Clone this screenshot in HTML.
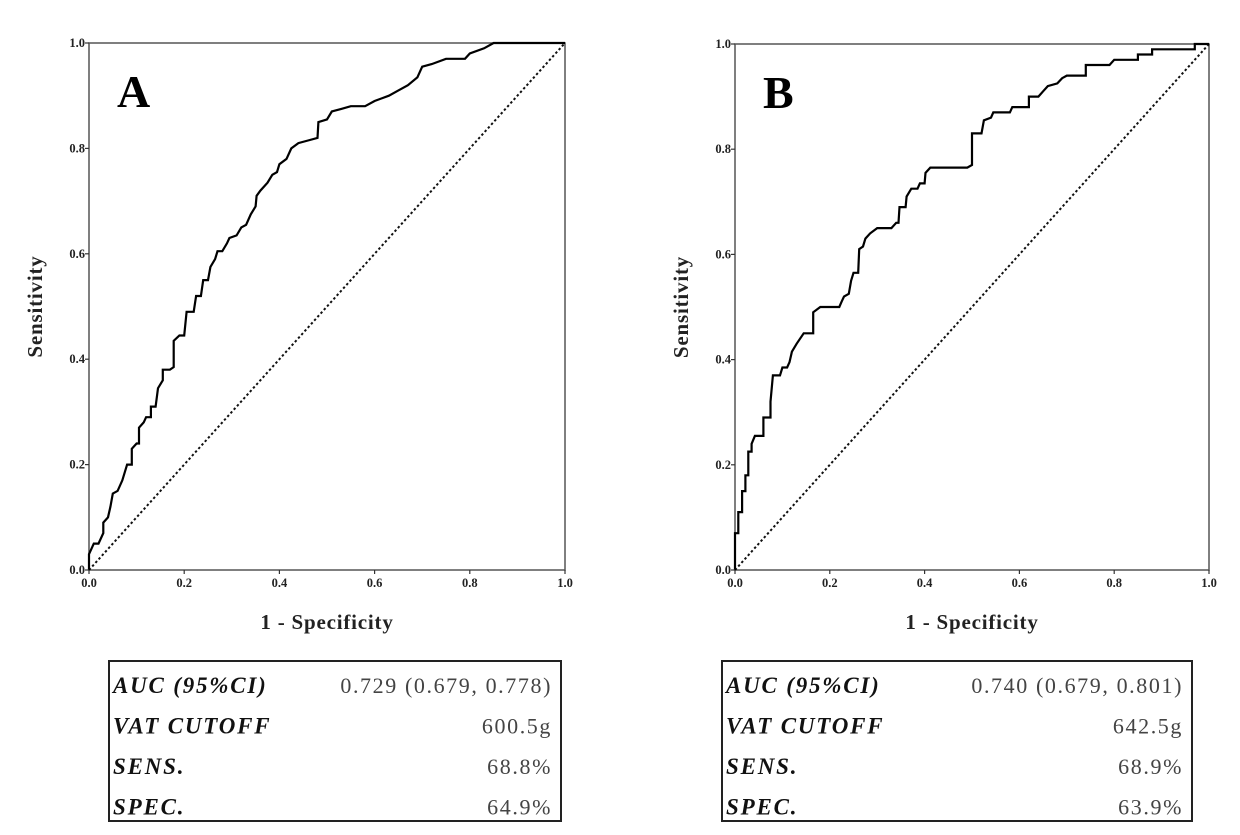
<!DOCTYPE html>
<html><head><meta charset="utf-8"><style>
body{margin:0;background:#fff;}
svg{display:block;font-family:"Liberation Serif",serif;}
</style></head><body>
<svg id="fig" width="1240" height="835" viewBox="0 0 1240 835"></svg>
<script>
const ticks=[0,0.2,0.4,0.6,0.8,1.0];
const tickLabels=["0.0","0.2","0.4","0.6","0.8","1.0"];
const rocAx=[0,0,0.01,0.02,0.03,0.03,0.04,0.045,0.05,0.06,0.07,0.08,0.09,0.09,0.1,0.105,0.105,0.115,0.12,0.13,0.13,0.14,0.145,0.155,0.155,0.17,0.178,0.178,0.19,0.2,0.205,0.22,0.225,0.235,0.24,0.25,0.255,0.265,0.27,0.28,0.29,0.295,0.31,0.32,0.33,0.34,0.35,0.352,0.36,0.375,0.385,0.395,0.4,0.415,0.425,0.44,0.46,0.48,0.482,0.5,0.51,0.53,0.55,0.58,0.6,0.63,0.65,0.67,0.69,0.7,0.72,0.75,0.79,0.8,0.83,0.85,0.97,1];
const rocAy=[0,0.03,0.05,0.05,0.07,0.09,0.1,0.12,0.145,0.15,0.17,0.2,0.2,0.23,0.24,0.24,0.27,0.28,0.29,0.29,0.31,0.31,0.345,0.36,0.38,0.38,0.385,0.435,0.445,0.445,0.49,0.49,0.52,0.52,0.55,0.55,0.575,0.59,0.605,0.605,0.62,0.63,0.635,0.65,0.655,0.675,0.69,0.71,0.72,0.735,0.75,0.755,0.77,0.78,0.8,0.81,0.815,0.82,0.85,0.855,0.87,0.875,0.88,0.88,0.89,0.9,0.91,0.92,0.935,0.955,0.96,0.97,0.97,0.98,0.99,1,1,1];
const rocBx=[0,0,0.007,0.007,0.015,0.015,0.022,0.022,0.028,0.028,0.035,0.035,0.042,0.06,0.06,0.075,0.075,0.08,0.095,0.1,0.11,0.115,0.12,0.13,0.145,0.165,0.165,0.18,0.22,0.225,0.23,0.24,0.245,0.25,0.26,0.262,0.27,0.275,0.285,0.3,0.33,0.34,0.345,0.347,0.36,0.362,0.372,0.385,0.39,0.4,0.402,0.412,0.49,0.5,0.5,0.52,0.525,0.54,0.545,0.58,0.585,0.62,0.62,0.64,0.65,0.66,0.68,0.69,0.7,0.74,0.74,0.79,0.8,0.85,0.85,0.88,0.88,0.97,0.97,1];
const rocBy=[0,0.07,0.07,0.11,0.11,0.15,0.15,0.18,0.18,0.225,0.225,0.24,0.255,0.255,0.29,0.29,0.32,0.37,0.37,0.385,0.385,0.395,0.415,0.43,0.45,0.45,0.49,0.5,0.5,0.51,0.52,0.525,0.55,0.565,0.565,0.61,0.615,0.63,0.64,0.65,0.65,0.66,0.66,0.69,0.69,0.71,0.725,0.725,0.735,0.735,0.755,0.765,0.765,0.77,0.83,0.83,0.855,0.86,0.87,0.87,0.88,0.88,0.9,0.9,0.91,0.92,0.925,0.935,0.94,0.94,0.96,0.96,0.97,0.97,0.98,0.98,0.99,0.99,1,1];
const tableLabels=["AUC (95%CI)","VAT CUTOFF","SENS.","SPEC."];
const tableA=["0.729 (0.679, 0.778)","600.5g","68.8%","64.9%"];
const tableB=["0.740 (0.679, 0.801)","642.5g","68.9%","63.9%"];
const NS="http://www.w3.org/2000/svg";
const svg=document.getElementById('fig');
function mk(tag,at,parent,txt){const e=document.createElementNS(NS,tag);for(const k in at)e.setAttribute(k,at[k]);if(txt!==undefined)e.textContent=txt;(parent||svg).appendChild(e);return e;}
function panel(id,letter,x0,x1,y0,y1,xs,ys,tvals,tx0,tx1){
  const g=mk('g',{});
  
  
  const sx=v=>x0+v*(x1-x0), sy=v=>y0-v*(y0-y1);
  const box=mk('rect',{x:x0,y:y1,width:x1-x0,height:y0-y1,fill:'none',stroke:'#555','stroke-width':1.5},g);
  
  
  const diag=mk('line',{x1:sx(0),y1:sy(0),x2:sx(1),y2:sy(1),stroke:'#111','stroke-width':2,'stroke-dasharray':'2.4,2.4'},g);
  
  
  let d='';xs.forEach((v,i)=>{d+=(i?'L':'M')+sx(v).toFixed(1)+','+sy(ys[i]).toFixed(1);});
  const p=mk('path',{d:d,fill:'none',stroke:'#000','stroke-width':2.2,'stroke-linejoin':'miter'},g);
  
  
  ticks.forEach((t,i)=>{
    mk('line',{x1:sx(t),y1:y0,x2:sx(t),y2:y0+4,stroke:'#333','stroke-width':1.2},g);
    mk('line',{x1:x0-4,y1:sy(t),x2:x0,y2:sy(t),stroke:'#333','stroke-width':1.2},g);
    const xl=mk('text',{x:sx(t),y:y0+17,'text-anchor':'middle','font-size':12.5,'font-weight':'bold',fill:'#222'},g,tickLabels[i]);
    
    
    const yl=mk('text',{x:x0-4,y:sy(t)+4,'text-anchor':'end','font-size':12.5,'font-weight':'bold',fill:'#222'},g,tickLabels[i]);
    
    
  });
  const L=mk('text',{x:x0+28,y:y1+64,'font-size':46,'font-weight':'bold',fill:'#000'},g,letter);
  
  
  const xt=mk('text',{x:(x0+x1)/2,y:629,'text-anchor':'middle','font-size':21,'font-weight':'bold','letter-spacing':0.8,fill:'#222'},g,'1 - Specificity');
  
  
  const yt=mk('text',{x:0,y:0,'text-anchor':'middle','font-size':21,'font-weight':'bold','letter-spacing':0.8,fill:'#222',transform:`translate(${x0-47},${(y0+y1)/2}) rotate(-90)`},g,'Sensitivity');
  
  
  const tb=mk('rect',{x:tx0,y:661,width:tx1-tx0,height:160,fill:'none',stroke:'#222','stroke-width':2},g);
  
  
  tableLabels.forEach((lab,i)=>{
    const yy=693+i*40.5;
    const a=mk('text',{x:tx0+4,y:yy,'font-size':23,'font-weight':'bold','font-style':'italic','letter-spacing':1.8,fill:'#111'},g,lab);
    
    
    const b=mk('text',{x:tx1-9,y:yy,'text-anchor':'end','font-size':22,'letter-spacing':1.6,fill:'#444'},g,tvals[i]);
    
    
  });
}
panel('a','A',89,565,570,43,rocAx,rocAy,tableA,109,561);
panel('b','B',735,1209,570,44,rocBx,rocBy,tableB,722,1192);
</script>
</body></html>
